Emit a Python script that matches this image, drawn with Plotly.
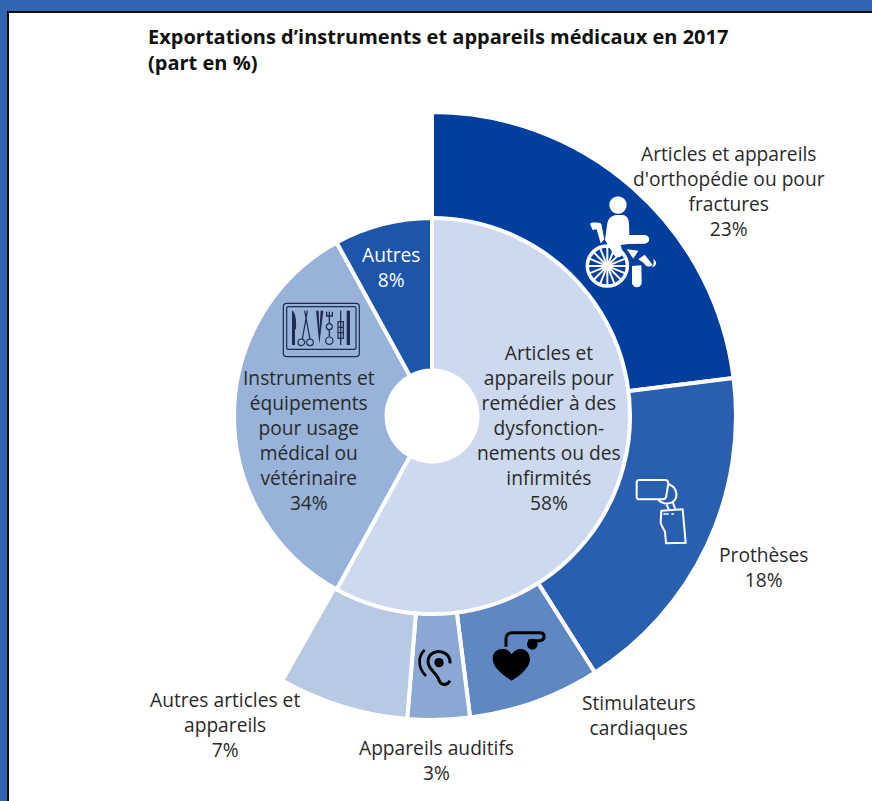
import re
import plotly.graph_objects as go

# Canvas size in pixels, everything placed by hand gets converted from these
W = 872
H = 801
CX = 432
CY = 416

# Inner ring
inner_labels = ["Articles et appareils", "Instruments et équipements", "Autres"]
inner_values = [58, 34, 8]
inner_colors = ["#ccd9ee", "#98b2da", "#1c55a9"]

# Outer ring, breaks down the 58% only so the rest is left empty
outer_labels = ["Orthopédie", "Prothèses", "Stimulateurs cardiaques", "Appareils auditifs", "Autres articles", ""]
outer_values = [23, 18, 7, 3.3, 6.9, 41.8]
outer_colors = ["#003f9e", "#2a5fb0", "#5f87c4", "#8ba8d4", "#b8c9e4", "rgba(0,0,0,0)"]
outer_line = [4, 4, 4, 4, 4, 0]

title_text = "<b>Exportations d’instruments et appareils médicaux en 2017<br>(part en %)</b>"

text_labels = [
    "Articles et appareils<br>d'orthopédie ou pour<br>fractures<br>23%",
    "Prothèses<br>18%",
    "Stimulateurs<br>cardiaques",
    "Appareils auditifs<br>3%",
    "Autres articles et<br>appareils<br>7%",
    "Autres<br>8%",
    "Instruments et<br>équipements<br>pour usage<br>médical ou<br>vétérinaire<br>34%",
    "Articles et<br>appareils pour<br>remédier à des<br>dysfonction-<br>nements ou des<br>infirmités<br>58%",
]
text_x = [729, 763, 639, 436, 225, 391, 309, 549]
text_y = [191, 567, 715, 760, 724, 267, 440, 427]
text_colors = ["#2a2a2a"] * 5 + ["white"] + ["#2a2a2a"] * 2


def px(x):
    return x / W


def py(y):
    return 1 - y / H


def ring_domain(r):
    return dict(x=[px(CX - r), px(CX + r)], y=[py(CY + r), py(CY - r)])


def pth(d, ox, oy, scale=1 / 3):
    # path written in zoomed pixels -> paper coordinates
    out = []
    is_x = True
    for tok in re.findall(r"[MLCQZ]|-?\d+\.?\d*", d):
        if tok in "MLCQZ":
            out.append(tok)
            is_x = True
        elif is_x:
            out.append(f"{px(ox + float(tok) * scale):.5f}")
            is_x = False
        else:
            out.append(f"{py(oy + float(tok) * scale):.5f}")
            is_x = True
    return " ".join(out)


shapes = []


def add_path(d, ox, oy, fill=None, line=None, width=0):
    shapes.append(dict(
        type="path", xref="paper", yref="paper", path=pth(d, ox, oy), layer="above",
        fillcolor=fill if fill else "rgba(0,0,0,0)",
        line=dict(color=line if line else "rgba(0,0,0,0)", width=width),
    ))


def add_circle(x, y, r, ox, oy, fill=None, line=None, width=0):
    x, y, r = ox + x / 3, oy + y / 3, r / 3
    shapes.append(dict(
        type="circle", xref="paper", yref="paper", layer="above",
        x0=px(x - r), x1=px(x + r), y0=py(y + r), y1=py(y - r),
        fillcolor=fill if fill else "rgba(0,0,0,0)",
        line=dict(color=line if line else "rgba(0,0,0,0)", width=width),
    ))


def add_rect(x0, y0, x1, y1, color):
    shapes.append(dict(
        type="rect", xref="paper", yref="paper", layer="above",
        x0=px(x0), x1=px(x1), y0=py(y1), y1=py(y0),
        fillcolor=color, line=dict(width=0),
    ))


# Page frame
add_rect(0, 0, W, 11, "#3366b2")
add_rect(0, 0, 7, H, "#3366b2")
add_rect(7, 11, W, 13, "#0a0a0a")
add_rect(7, 11, 9, H, "#0a0a0a")

# Wheelchair icon
ox, oy = 570, 180
add_circle(144, 75, 26, ox, oy, fill="white")
add_path("M 112 130 C 115 115 125 106 140 105 L 160 105 C 172 108 176 118 177 130 L 178 165 L 225 165 "
         "C 242 168 242 188 225 191 L 175 192 L 152 195 L 159 220 C 158 232 140 236 132 226 L 105 180 Z",
         ox, oy, fill="white")
add_path("M 60 132 C 62 126 90 127 94 132 L 103 178 L 92 190 L 80 148 L 68 150 Z", ox, oy, fill="white")
add_circle(112, 258, 60, ox, oy, line="white", width=3.5)
add_circle(112, 258, 11, ox, oy, fill="white")
for d in ["M 112 200 L 112 316", "M 54 258 L 170 258", "M 71 217 L 153 299", "M 71 299 L 153 217",
          "M 90 204 L 134 312", "M 58 236 L 166 280", "M 58 280 L 166 236", "M 90 312 L 134 204"]:
    add_path(d, ox, oy, line="white", width=2)
add_path("M 170 208 L 205 212 L 190 236 Z", ox, oy, fill="white")
add_path("M 186 258 L 214 256 L 215 310 C 212 326 190 326 186 310 Z", ox, oy, fill="white")
add_path("M 205 238 L 224 224 L 248 254 C 240 262 228 262 222 250 Z", ox, oy, fill="white")
add_path("M 250 237 C 262 245 262 258 246 262 C 252 254 252 246 250 237 Z", ox, oy, fill="white")

# Prosthesis icon
ox, oy = 620, 460
add_path("M 58 60 L 135 60 C 142 60 145 65 145 72 L 138 112 C 136 116 133 118 128 118 L 58 118 C 52 118 50 114 50 110 "
         "L 50 68 C 50 63 52 60 58 60 Z", ox, oy, line="white", width=2)
add_path("M 145 72 C 170 80 178 112 158 126 M 115 120 C 125 132 145 134 158 126", ox, oy, line="white", width=2)
add_path("M 140 134 L 146 148 M 158 126 L 166 148", ox, oy, line="white", width=2)
add_path("M 124 152 L 188 148 L 197 248 L 138 250 L 135 215 C 130 205 122 195 122 185 Z", ox, oy, line="white", width=2)
add_path("M 130 162 L 146 162 M 154 162 L 162 162", ox, oy, line="white", width=1.5)

# Pacemaker and hearing aid icons
ox, oy = 400, 610
add_path("M 335 212 C 300 190 278 170 278 145 C 278 125 295 115 312 117 C 322 118 330 125 335 133 "
         "C 340 125 350 117 362 117 C 378 117 390 130 390 148 C 390 170 365 195 335 212 Z", ox, oy, fill="black")
add_path("M 318 110 L 318 88 C 318 74 326 68 338 68 L 422 68", ox, oy, line="black", width=3)
add_path("M 422 68 C 436 70 436 90 420 92 L 385 92", ox, oy, line="black", width=3)
add_circle(397, 103, 16, ox, oy, fill="black")
add_path("M 150 160 C 152 135 130 122 110 125 C 90 128 80 145 86 165 C 92 182 110 190 116 208 "
         "C 120 222 138 232 150 212", ox, oy, line="black", width=3)
add_circle(117, 158, 14, ox, oy, fill="black")
add_path("M 74 120 C 52 140 54 175 78 198", ox, oy, line="black", width=2.6)

# Instrument tray icon
ox, oy = 270, 290
tray = "#1d2b4f"
add_path("M 50 40 L 258 40 C 264 40 268 44 268 50 L 268 190 C 268 196 264 200 258 200 L 50 200 C 44 200 40 196 40 190 "
         "L 40 50 C 40 44 44 40 50 40 Z", ox, oy, line=tray, width=1.2)
add_path("M 55 50 L 253 50 C 256 50 258 52 258 55 L 258 173 C 258 176 256 178 253 178 L 55 178 C 52 178 50 176 50 173 "
         "L 50 55 C 50 52 52 50 55 50 Z", ox, oy, line=tray, width=1.2)
add_path("M 66 62 C 76 64 80 90 78 118 L 75 118 L 75 165 L 66 165 Z", ox, oy, fill=tray)
add_path("M 104 62 L 120 148 M 112 62 L 97 148", ox, oy, line=tray, width=1.2)
add_circle(94, 157, 10, ox, oy, line=tray, width=1.2)
add_circle(120, 157, 10, ox, oy, line=tray, width=1.2)
add_path("M 138 62 L 148 162 L 160 62 L 152 62 L 148 120 L 146 62 Z", ox, oy, fill=tray)
add_path("M 170 65 L 170 78 L 187 78 L 187 65 M 178 65 L 178 100 M 178 120 L 178 140", ox, oy, line=tray, width=1.3)
add_circle(178, 110, 9, ox, oy, line=tray, width=1.2)
add_circle(178, 152, 11, ox, oy, line=tray, width=1.2)
add_path("M 212 62 L 212 165", ox, oy, line=tray, width=1.3)
add_path("M 204 95 L 220 95 L 220 145 L 204 145 Z M 204 112 L 220 112 M 204 128 L 220 128", ox, oy, line=tray, width=1.2)
add_path("M 230 62 L 240 62 L 240 165 L 230 165 Z", ox, oy, fill=tray)

fig = go.Figure()
fig.add_trace(go.Pie(
    labels=outer_labels,
    values=outer_values,
    sort=False,
    direction="clockwise",
    rotation=0,
    hole=197 / 304,
    domain=ring_domain(304),
    textinfo="none",
    marker=dict(colors=outer_colors, line=dict(color="white", width=outer_line)),
    showlegend=False,
))
fig.add_trace(go.Pie(
    labels=inner_labels,
    values=inner_values,
    sort=False,
    direction="clockwise",
    rotation=0,
    hole=45.5 / 198,
    domain=ring_domain(198),
    textinfo="none",
    marker=dict(colors=inner_colors, line=dict(color="white", width=4)),
    showlegend=False,
))

annotations = [
    dict(text=t, x=px(x), y=py(y), xref="paper", yref="paper", xanchor="center", yanchor="middle",
         showarrow=False, align="center", font=dict(color=c, size=19.2))
    for t, x, y, c in zip(text_labels, text_x, text_y, text_colors)
]
annotations.append(dict(
    text=title_text, x=px(146), y=py(49.5), xref="paper", yref="paper", xanchor="left", yanchor="middle",
    showarrow=False, align="left", font=dict(color="#111111", size=20),
))

fig.update_layout(
    width=W,
    height=H,
    margin=dict(l=0, r=0, t=0, b=0),
    paper_bgcolor="white",
    font=dict(family="Open Sans"),
    annotations=annotations,
    shapes=shapes,
)

# the default page margin would push the whole figure off by 8px
fig.write_html("out.html", config=dict(displayModeBar=False), post_script="document.body.style.margin='0';")
